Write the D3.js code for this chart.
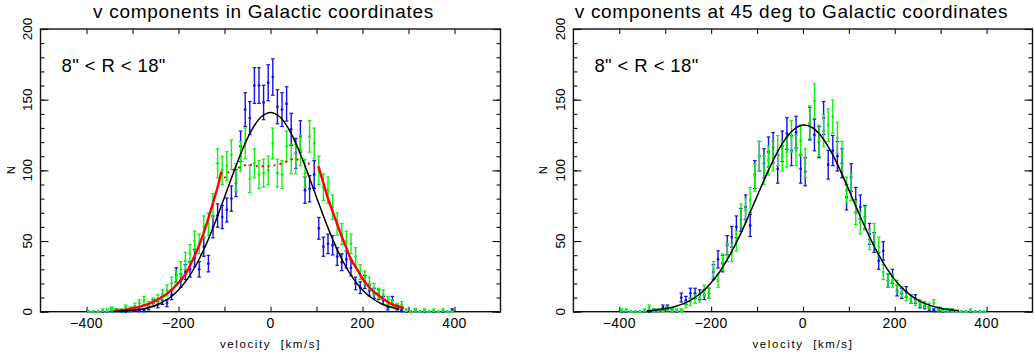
<!DOCTYPE html>
<html>
<head>
<meta charset="utf-8">
<script src="https://cdn.jsdelivr.net/npm/d3@7"></script>
<style>
  body { margin: 0; background: #fff; }
  text { font-family: "Liberation Sans", Arial, Helvetica, sans-serif; fill: #000; }
</style>
</head>
<body>
<script>
// bin centres, km/s
const velocity = d3.range(-395, 400, 10);

// left panel: counts per bin
const leftBlue = [
  0, 0, 0, 0, 0, 1, 1, 0, 0, 1,
  2, 1, 1, 3, 6, 5, 8, 6, 12, 26,
  22, 28, 30, 38, 30, 46, 34, 60, 68, 67,
  72, 80, 91, 117, 143, 137, 160, 160, 148, 162,
  166, 145, 143, 147, 129, 112, 124, 86, 87, 97,
  59, 46, 48, 47, 39, 35, 37, 31, 20, 17,
  21, 15, 13, 12, 8, 3, 8, 3, 1, 0,
  0, 1, 0, 0, 0, 0, 0, 0, 0, 1
];
const leftGreen = [
  0, 0, 0, 1, 1, 2, 1, 1, 3, 2,
  4, 6, 8, 5, 7, 9, 12, 15, 20, 24,
  30, 36, 41, 50, 48, 60, 62, 75, 105, 100,
  103, 111, 95, 110, 119, 94, 105, 97, 98, 100,
  119, 98, 97, 117, 108, 108, 114, 98, 124, 119,
  100, 88, 86, 74, 62, 55, 50, 48, 39, 28,
  24, 20, 16, 13, 12, 8, 6, 4, 5, 1,
  0, 1, 0, 1, 0, 1, 0, 1, 0, 0
];

// right panel: counts per bin
const rightBlue = [
  0, 0, 0, 0, 0, 0, 0, 1, 1, 3,
  3, 1, 0, 10, 8, 13, 13, 12, 12, 13,
  28, 37, 34, 47, 53, 60, 65, 74, 61, 97,
  110, 105, 113, 116, 101, 117, 126, 114, 127, 101,
  99, 133, 125, 120, 137, 104, 114, 110, 105, 81,
  95, 79, 74, 67, 55, 49, 36, 43, 22, 25,
  15, 13, 14, 9, 9, 5, 4, 2, 1, 1,
  0, 1, 1, 0, 0, 0, 0, 0, 0, 0
];
const rightGreen = [
  1, 1, 0, 0, 0, 1, 3, 1, 1, 1,
  2, 1, 1, 1, 5, 7, 9, 10, 15, 13,
  30, 22, 35, 42, 42, 50, 68, 72, 79, 95,
  110, 100, 107, 110, 114, 110, 113, 124, 114, 121,
  105, 134, 149, 121, 128, 132, 138, 123, 110, 86,
  88, 70, 63, 66, 51, 55, 46, 28, 22, 22,
  18, 14, 11, 9, 7, 6, 5, 4, 6, 2,
  1, 1, 1, 0, 0, 0, 1, 0, 0, 0
];

// fitted curves
const fitLeftV = d3.range(-340, 300, 20);
const fitLeftN = [0.2, 0.5, 1.0, 1.8, 3.3, 5.8, 9.7, 15.4, 23.4, 34.1, 47.6, 63.5, 81.0, 98.9, 115.5, 129.0, 137.9,
  141, 137.9, 129.0, 115.5, 98.9, 81.0, 63.5, 47.6, 34.1, 23.4, 15.4, 9.7, 5.8, 3.3, 1.8];
const fitRightV = d3.range(-340, 360, 20);
const fitRightN = [0.6, 1.2, 2.1, 3.5, 5.7, 9.1, 13.8, 20.4, 28.9, 39.6, 52.2, 66.5, 81.6, 96.6, 110.3, 121.4, 128.9,
  132.0, 130.3, 124.1, 113.9, 100.9, 86.2, 71.0, 56.4, 43.2, 31.9, 22.7, 15.6, 10.3, 6.6, 4.1, 2.4, 1.4, 0.8];

const redLowV = [-340, -320, -300, -280, -260, -240, -220, -200, -185, -170, -155, -140, -125, -115, -107];
const redLowN = [0.6, 1.3, 2.4, 4, 6.3, 9.5, 14, 20.5, 26.5, 36, 47, 61, 77, 88, 99];
const redHighV = [104, 115, 125, 135, 145, 155, 165, 175, 190, 205, 220, 235, 250, 265, 280, 290];
const redHighN = [103, 91, 80, 71, 62, 53, 45, 37, 29, 21, 15.5, 11.5, 8, 5, 3.5, 2.6];
const redMidV = [-107, -100, -90, -75, -50, -25, 0, 25, 50, 75, 95, 104];
const redMidN = [99, 95, 99, 101, 104, 103, 103, 105, 108, 106, 103, 103];

const xTicks = d3.range(-400, 500, 100);
const xLabels = [-400, -200, 0, 200, 400];
const yMajor = [0, 50, 100, 150, 200];
const yMinor = d3.range(0, 201, 10);

const W = 1034, H = 356;
const svg = d3.select("body").append("svg").attr("width", W).attr("height", H);

const BLUE = "#1010ee", GREEN = "#10f010", RED = "#ff0000";

function pairs(v, n) { return v.map((d, i) => [d, n[i]]); }

function drawPanel(p) {
  const top = 29, bottom = 311.7;
  const x = d3.scaleLinear().domain([-500, 500]).range([p.x0, p.x1]);
  const y = d3.scaleLinear().domain([0, 200]).range([bottom, top]);
  const g = svg.append("g");

  // frame
  g.append("rect")
    .attr("x", p.x0).attr("y", top)
    .attr("width", p.x1 - p.x0).attr("height", bottom - top)
    .attr("fill", "none").attr("stroke", "#111").attr("stroke-width", 1.4);

  // ticks, all pointing inward
  const axB = d3.axisBottom(x).tickValues(xTicks).tickSize(-5).tickFormat("");
  const axT = d3.axisTop(x).tickValues(xTicks).tickSize(-5).tickFormat("");
  const axL = d3.axisLeft(y).tickValues(yMinor).tickSize(-4).tickFormat("");
  const axLm = d3.axisLeft(y).tickValues(yMajor).tickSize(-8).tickFormat("");
  const axR = d3.axisRight(y).tickValues(yMinor).tickSize(-4).tickFormat("");
  const axRm = d3.axisRight(y).tickValues(yMajor).tickSize(-8).tickFormat("");
  [[axB, `translate(0,${bottom})`], [axT, `translate(0,${top})`],
   [axL, `translate(${p.x0},0)`], [axLm, `translate(${p.x0},0)`],
   [axR, `translate(${p.x1},0)`], [axRm, `translate(${p.x1},0)`]].forEach(([ax, tr]) => {
    const a = g.append("g").attr("transform", tr).call(ax);
    a.select(".domain").remove();
    a.selectAll("line").attr("stroke", "#111").attr("stroke-width", 1.1);
  });

  // tick labels
  g.selectAll(".xl").data(xLabels).join("text")
    .attr("x", d => x(d)).attr("y", 327.5)
    .attr("text-anchor", "middle").attr("font-size", 14)
    .attr("letter-spacing", 0.4)
    .text(d => d3.format("")(d));
  g.selectAll(".yl").data(yMajor).join("text")
    .attr("transform", d => `translate(${p.x0 - 8.7},${y(d)}) rotate(-90)`)
    .attr("text-anchor", "middle").attr("font-size", 13.5)
    .text(d => d);

  // axis titles
  g.append("text")
    .attr("x", (p.x0 + p.x1) / 2).attr("y", 348)
    .attr("text-anchor", "middle").attr("font-size", 11.5)
    .attr("letter-spacing", 1.6)
    .text("velocity\u00a0\u00a0[km/s]");
  g.append("text")
    .attr("transform", `translate(${p.x0 - 26},${170}) rotate(-90)`)
    .attr("text-anchor", "middle").attr("font-size", 11.5)
    .text("N");

  // titles
  g.append("text")
    .attr("x", p.titleX).attr("y", 18)
    .attr("text-anchor", "middle").attr("font-size", 19)
    .attr("letter-spacing", 0.7)
    .text(p.title);
  g.append("text")
    .attr("x", p.x0 + 21).attr("y", 71.7)
    .attr("font-size", 18.5).attr("letter-spacing", 0.4)
    .text('8" < R < 18"');

  // data with Poisson error bars
  function errSeries(counts, color) {
    const s = g.append("g").attr("stroke", color).attr("fill", color);
    const pts = velocity.map((v, i) => ({ v, n: counts[i], e: Math.sqrt(counts[i]) }));
    s.selectAll(".bar").data(pts).join("line")
      .attr("x1", d => x(d.v)).attr("x2", d => x(d.v))
      .attr("y1", d => y(d.n - d.e)).attr("y2", d => y(d.n + d.e))
      .attr("stroke-width", 1.4);
    s.selectAll(".capt").data(pts).join("line")
      .attr("x1", d => x(d.v) - 1.8).attr("x2", d => x(d.v) + 1.8)
      .attr("y1", d => y(d.n + d.e)).attr("y2", d => y(d.n + d.e))
      .attr("stroke-width", 1.2);
    s.selectAll(".capb").data(pts).join("line")
      .attr("x1", d => x(d.v) - 1.8).attr("x2", d => x(d.v) + 1.8)
      .attr("y1", d => y(d.n - d.e)).attr("y2", d => y(d.n - d.e))
      .attr("stroke-width", 1.2);
    s.selectAll("circle").data(pts).join("circle")
      .attr("cx", d => x(d.v)).attr("cy", d => y(d.n)).attr("r", 1.4)
      .attr("stroke", "none");
  }
  errSeries(p.blue, BLUE);
  errSeries(p.green, GREEN);

  const line = d3.line().x(d => x(d[0])).y(d => y(d[1])).curve(d3.curveCatmullRom);
  (p.red || []).forEach(r => {
    g.append("path").attr("d", line(r.pts))
      .attr("fill", "none").attr("stroke", RED)
      .attr("stroke-width", r.dash ? 2 : 2.4)
      .attr("stroke-dasharray", r.dash ? "2,4" : null);
  });
  g.append("path").attr("d", line(p.fit))
    .attr("fill", "none").attr("stroke", "#000").attr("stroke-width", 1.5);
}

drawPanel({
  x0: 40.5, x1: 500.5, titleX: 263.5,
  title: "v components in Galactic coordinates",
  blue: leftBlue, green: leftGreen,
  fit: pairs(fitLeftV, fitLeftN),
  red: [
    { pts: pairs(redLowV, redLowN) },
    { pts: pairs(redHighV, redHighN) },
    { pts: pairs(redMidV, redMidN), dash: true }
  ]
});

drawPanel({
  x0: 573.4, x1: 1032.5, titleX: 791.5,
  title: "v components at 45 deg to Galactic coordinates",
  blue: rightBlue, green: rightGreen,
  fit: pairs(fitRightV, fitRightN)
});
</script>
</body>
</html>
